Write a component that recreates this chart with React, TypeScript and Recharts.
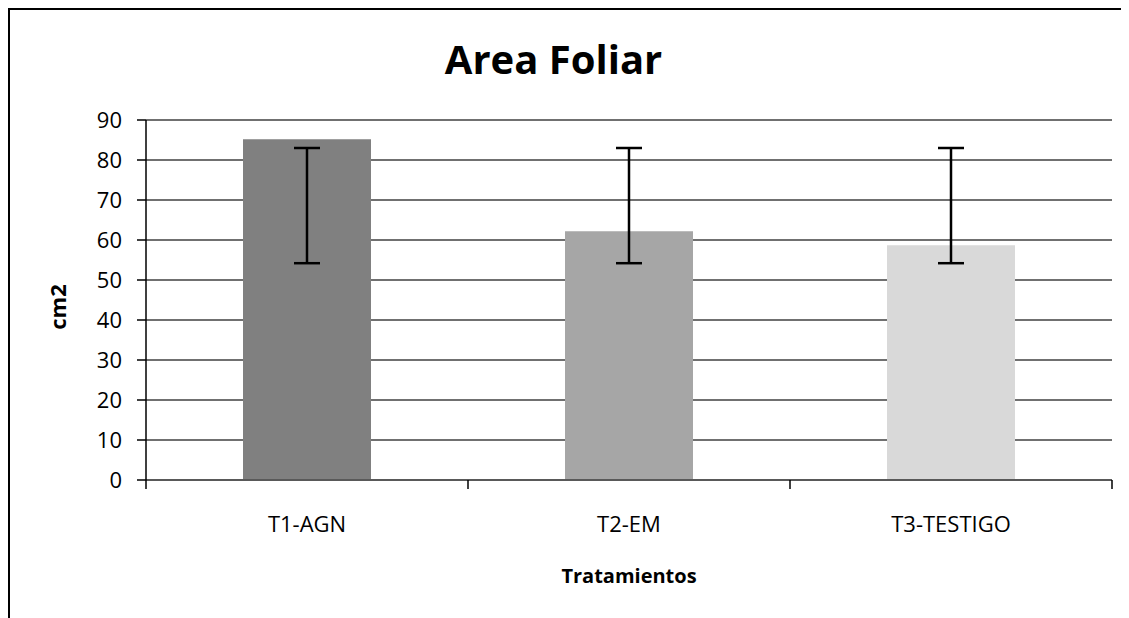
import React from 'react';
import { BarChart, Bar, Cell, XAxis, YAxis, CartesianGrid, ErrorBar } from 'recharts';

const tratamientos = ['T1-AGN', 'T2-EM', 'T3-TESTIGO'];
const areaFoliar = [85.2, 62.2, 58.7];
const errorBajo = [54.2, 54.2, 54.2];
const errorAlto = [83.0, 83.0, 83.0];
const colores = ['#808080', '#a6a6a6', '#d9d9d9'];
const yTicks = [0, 10, 20, 30, 40, 50, 60, 70, 80, 90];

const data = tratamientos.map((name, i) => ({
  name,
  value: areaFoliar[i],
  err: [areaFoliar[i] - errorBajo[i], errorAlto[i] - areaFoliar[i]],
}));

const FONT = '"Open Sans", sans-serif';
const TICK_GAP = 36;

// category label at the band centre, tick marks at the band edges (Excel style)
const CatTick = (props: any) => {
  const { x, y, payload, index, visibleTicksCount } = props;
  const half = payload.offset || 0;
  const axisY = y - TICK_GAP;
  const last = index === visibleTicksCount - 1;
  return (
    <g>
      <line x1={x - half} y1={axisY} x2={x - half} y2={axisY + 9} stroke="#000" strokeWidth={1.5} />
      {last && <line x1={x + half} y1={axisY} x2={x + half} y2={axisY + 9} stroke="#000" strokeWidth={1.5} />}
      <text x={x} y={y} dy="0.71em" textAnchor="middle" fontSize={22} fontFamily={FONT} fill="#000">
        {payload.value}
      </text>
    </g>
  );
};

export default function App() {
  return (
    <div
      style={{
        position: 'relative',
        width: 1119,
        height: 608,
        borderLeft: '2px solid #000',
        borderTop: '2px solid #000',
        fontFamily: FONT,
        overflow: 'hidden',
      }}
    >
      <style>{'html, body { overflow: hidden; }'}</style>
      <div
        style={{
          position: 'absolute',
          top: 29,
          left: 0,
          width: 1087,
          textAlign: 'center',
          fontSize: 40,
          lineHeight: 1,
          fontWeight: 700,
          color: '#000',
        }}
      >
        Area Foliar
      </div>
      <BarChart
        width={1104}
        height={600}
        data={data}
        margin={{ top: 110, right: 2, bottom: 0, left: 0 }}
        barSize={128}
      >
        <CartesianGrid vertical={false} stroke="#404040" strokeWidth={1.5} />
        <XAxis
          dataKey="name"
          height={130}
          interval={0}
          axisLine={{ stroke: '#595959', strokeWidth: 2 }}
          tickLine={false}
          tickSize={0}
          tickMargin={TICK_GAP}
          tick={<CatTick />}
          label={({ viewBox }: any) => (
            <text
              x={viewBox.x + viewBox.width / 2}
              y={viewBox.y + 103}
              textAnchor="middle"
              fontSize={20}
              fontWeight={700}
              fontFamily={FONT}
              fill="#000"
            >
              Tratamientos
            </text>
          )}
        />
        <YAxis
          width={136}
          domain={[0, 90]}
          ticks={yTicks}
          interval={0}
          tickSize={9}
          tickMargin={15}
          axisLine={{ stroke: '#000', strokeWidth: 1.5 }}
          tickLine={{ stroke: '#000', strokeWidth: 1.5 }}
          tick={{ fill: '#000', fontSize: 22, fontFamily: FONT }}
          label={({ viewBox }: any) => (
            <text
              x={viewBox.x + 47}
              y={viewBox.y + viewBox.height / 2 + 7}
              transform={`rotate(-90, ${viewBox.x + 47}, ${viewBox.y + viewBox.height / 2 + 7})`}
              textAnchor="middle"
              dominantBaseline="central"
              fontSize={22}
              fontWeight={700}
              fontFamily={FONT}
              fill="#000"
            >
              cm2
            </text>
          )}
        />
        <Bar dataKey="value" isAnimationActive={false}>
          {data.map((d, i) => (
            <Cell key={d.name} fill={colores[i]} />
          ))}
          <ErrorBar dataKey="err" width={13} stroke="#000" strokeWidth={2.5} isAnimationActive={false} />
        </Bar>
      </BarChart>
    </div>
  );
}
